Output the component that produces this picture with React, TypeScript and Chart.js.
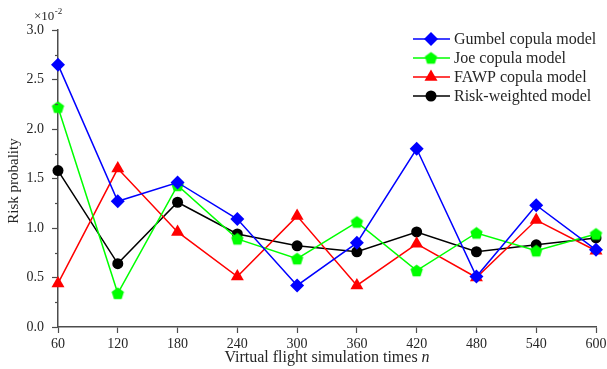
import React, { useEffect, useRef } from "react";
import { Chart, registerables } from "chart.js";

Chart.register(...registerables);

const categories = ["60", "120", "180", "240", "300", "360", "420", "480", "540", "600"];
const gumbel = [2.65, 1.27, 1.46, 1.09, 0.42, 0.85, 1.80, 0.51, 1.23, 0.78];
const joe = [2.22, 0.34, 1.43, 0.89, 0.69, 1.06, 0.57, 0.95, 0.77, 0.94];
const fawp = [0.44, 1.60, 0.96, 0.51, 1.12, 0.42, 0.84, 0.50, 1.08, 0.77];
const riskWeighted = [1.58, 0.64, 1.26, 0.94, 0.82, 0.76, 0.96, 0.76, 0.83, 0.90];
const seriesNames = ["Gumbel copula model", "Joe copula model", "FAWP copula model", "Risk-weighted model"];
const yMin = 0;
const yMax = 3;
const yMajorStep = 0.5;
const yMinorTicks = [0.25, 0.75, 1.25, 1.75, 2.25, 2.75];

const SERIF = '"Liberation Serif", "Times New Roman", serif';
const TEXT = "#262626";
const AXIS = "#4d4d4d";

function makePentagon(color: string, r: number): HTMLCanvasElement {
  const size = Math.ceil(r * 2 + 2);
  const c = document.createElement("canvas");
  c.width = size;
  c.height = size;
  const g = c.getContext("2d")!;
  const cx = size / 2;
  const cy = size / 2 + 0.5;
  g.beginPath();
  for (let i = 0; i < 5; i++) {
    const a = -Math.PI / 2 + (i * 2 * Math.PI) / 5;
    const x = cx + r * Math.cos(a);
    const y = cy + r * Math.sin(a);
    if (i === 0) g.moveTo(x, y);
    else g.lineTo(x, y);
  }
  g.closePath();
  g.fillStyle = color;
  g.fill();
  return c;
}

export default function App() {
  const ref = useRef<HTMLCanvasElement | null>(null);

  useEffect(() => {
    document.body.style.margin = "0";
    const pentagon = makePentagon("#00ff00", 6.5);

    const annotations = {
      id: "annotations",
      afterDraw(chart: any) {
        const ctx = chart.ctx as CanvasRenderingContext2D;
        const area = chart.chartArea;
        const yScale = chart.scales.y;
        ctx.save();

        // minor y ticks
        ctx.strokeStyle = AXIS;
        ctx.lineWidth = 1.2;
        yMinorTicks.forEach((v) => {
          const py = Math.round(yScale.getPixelForValue(v)) + 0.5;
          ctx.beginPath();
          ctx.moveTo(area.left - 3, py);
          ctx.lineTo(area.left, py);
          ctx.stroke();
        });

        ctx.fillStyle = TEXT;
        // multiplier
        ctx.textBaseline = "alphabetic";
        ctx.textAlign = "left";
        ctx.font = `13px ${SERIF}`;
        ctx.fillText("×10", 34, 20);
        const w = ctx.measureText("×10").width;
        ctx.font = `9px ${SERIF}`;
        ctx.fillText("-2", 34 + w + 0.5, 14);

        // y title
        ctx.save();
        ctx.translate(14, 181);
        ctx.rotate(-Math.PI / 2);
        ctx.textAlign = "center";
        ctx.textBaseline = "middle";
        ctx.font = `15px ${SERIF}`;
        ctx.fillText("Risk probality", 0, 0);
        ctx.restore();

        // x title
        ctx.font = `16px ${SERIF}`;
        const t1 = "Virtual flight simulation times ";
        const w1 = ctx.measureText(t1).width;
        ctx.font = `italic 16px ${SERIF}`;
        const w2 = ctx.measureText("n").width;
        const cx = (area.left + area.right) / 2;
        const startX = cx - (w1 + w2) / 2;
        ctx.textBaseline = "middle";
        ctx.textAlign = "left";
        ctx.font = `16px ${SERIF}`;
        ctx.fillText(t1, startX, 358);
        ctx.font = `italic 16px ${SERIF}`;
        ctx.fillText("n", startX + w1, 358);

        // legend
        const lx0 = 413;
        const lx1 = 450;
        const mx = 431;
        const rows = [39, 58, 77, 96];
        chart.data.datasets.forEach((ds: any, i: number) => {
          const y = rows[i];
          ctx.strokeStyle = ds.borderColor;
          ctx.lineWidth = 1.5;
          ctx.beginPath();
          ctx.moveTo(lx0, y);
          ctx.lineTo(lx1, y);
          ctx.stroke();
          ctx.fillStyle = ds.pointBackgroundColor;
          const r = ds.pointRadius;
          ctx.beginPath();
          if (ds.pointStyle === "rectRot") {
            ctx.moveTo(mx, y - r);
            ctx.lineTo(mx + r, y);
            ctx.lineTo(mx, y + r);
            ctx.lineTo(mx - r, y);
            ctx.closePath();
            ctx.fill();
          } else if (ds.pointStyle === "triangle") {
            ctx.moveTo(mx, y - r);
            ctx.lineTo(mx + r * Math.cos(Math.PI / 6), y + r / 2);
            ctx.lineTo(mx - r * Math.cos(Math.PI / 6), y + r / 2);
            ctx.closePath();
            ctx.fill();
          } else if (ds.pointStyle === "circle") {
            ctx.arc(mx, y, r, 0, Math.PI * 2);
            ctx.fill();
          } else {
            const img = ds.pointStyle as HTMLCanvasElement;
            ctx.drawImage(img, mx - img.width / 2, y - img.height / 2);
          }
          ctx.fillStyle = TEXT;
          ctx.font = `16px ${SERIF}`;
          ctx.textAlign = "left";
          ctx.textBaseline = "middle";
          ctx.fillText(ds.label, 454, y + 0.5);
        });
        ctx.restore();
      },
    };

    const mk = (label: string, data: number[], color: string, style: any, radius: number) => ({
      label,
      data,
      borderColor: color,
      backgroundColor: color,
      pointBackgroundColor: color,
      pointBorderColor: color,
      pointBorderWidth: 0,
      pointStyle: style,
      pointRadius: radius,
      borderWidth: 1.5,
      tension: 0,
      clip: false as any,
    });

    const chart = new Chart(ref.current!, {
      type: "line",
      data: {
        labels: categories,
        datasets: [
          mk(seriesNames[0], gumbel, "#0000ff", "rectRot", 7),
          mk(seriesNames[1], joe, "#00ff00", pentagon, 6.5),
          mk(seriesNames[2], fawp, "#ff0000", "triangle", 7.5),
          mk(seriesNames[3], riskWeighted, "#000000", "circle", 5.5),
        ],
      },
      options: {
        responsive: false,
        animation: false,
        layout: { padding: { top: 30, right: 11, left: 0, bottom: 0 } },
        plugins: { legend: { display: false }, tooltip: { enabled: false } },
        scales: {
          x: {
            type: "category",
            offset: false,
            grid: { drawOnChartArea: false, drawTicks: true, tickLength: 6, color: AXIS, tickWidth: 1.2 },
            border: { display: true, color: AXIS, width: 1.5 },
            ticks: { color: TEXT, font: { family: SERIF, size: 14 }, padding: 3, maxRotation: 0, autoSkip: false },
            afterFit(scale: any) {
              scale.height = 42;
              scale.paddingLeft = 0;
              scale.paddingRight = 0;
            },
          },
          y: {
            min: yMin,
            max: yMax,
            grid: { drawOnChartArea: false, drawTicks: true, tickLength: 6, color: AXIS, tickWidth: 1.2 },
            border: { display: true, color: AXIS, width: 1.5 },
            ticks: {
              stepSize: yMajorStep,
              color: TEXT,
              font: { family: SERIF, size: 14 },
              padding: 8,
              callback: (v: any) => Number(v).toFixed(1),
            },
            afterFit(scale: any) {
              scale.width = 58;
              scale.paddingTop = 0;
              scale.paddingBottom = 0;
            },
          },
        },
      },
      plugins: [annotations],
    });
    return () => chart.destroy();
  }, []);

  return (
    <div style={{ position: "absolute", left: 0, top: 0, width: 607, height: 369, background: "#fff" }}>
      <canvas ref={ref} width={607} height={369} style={{ display: "block" }} />
    </div>
  );
}
